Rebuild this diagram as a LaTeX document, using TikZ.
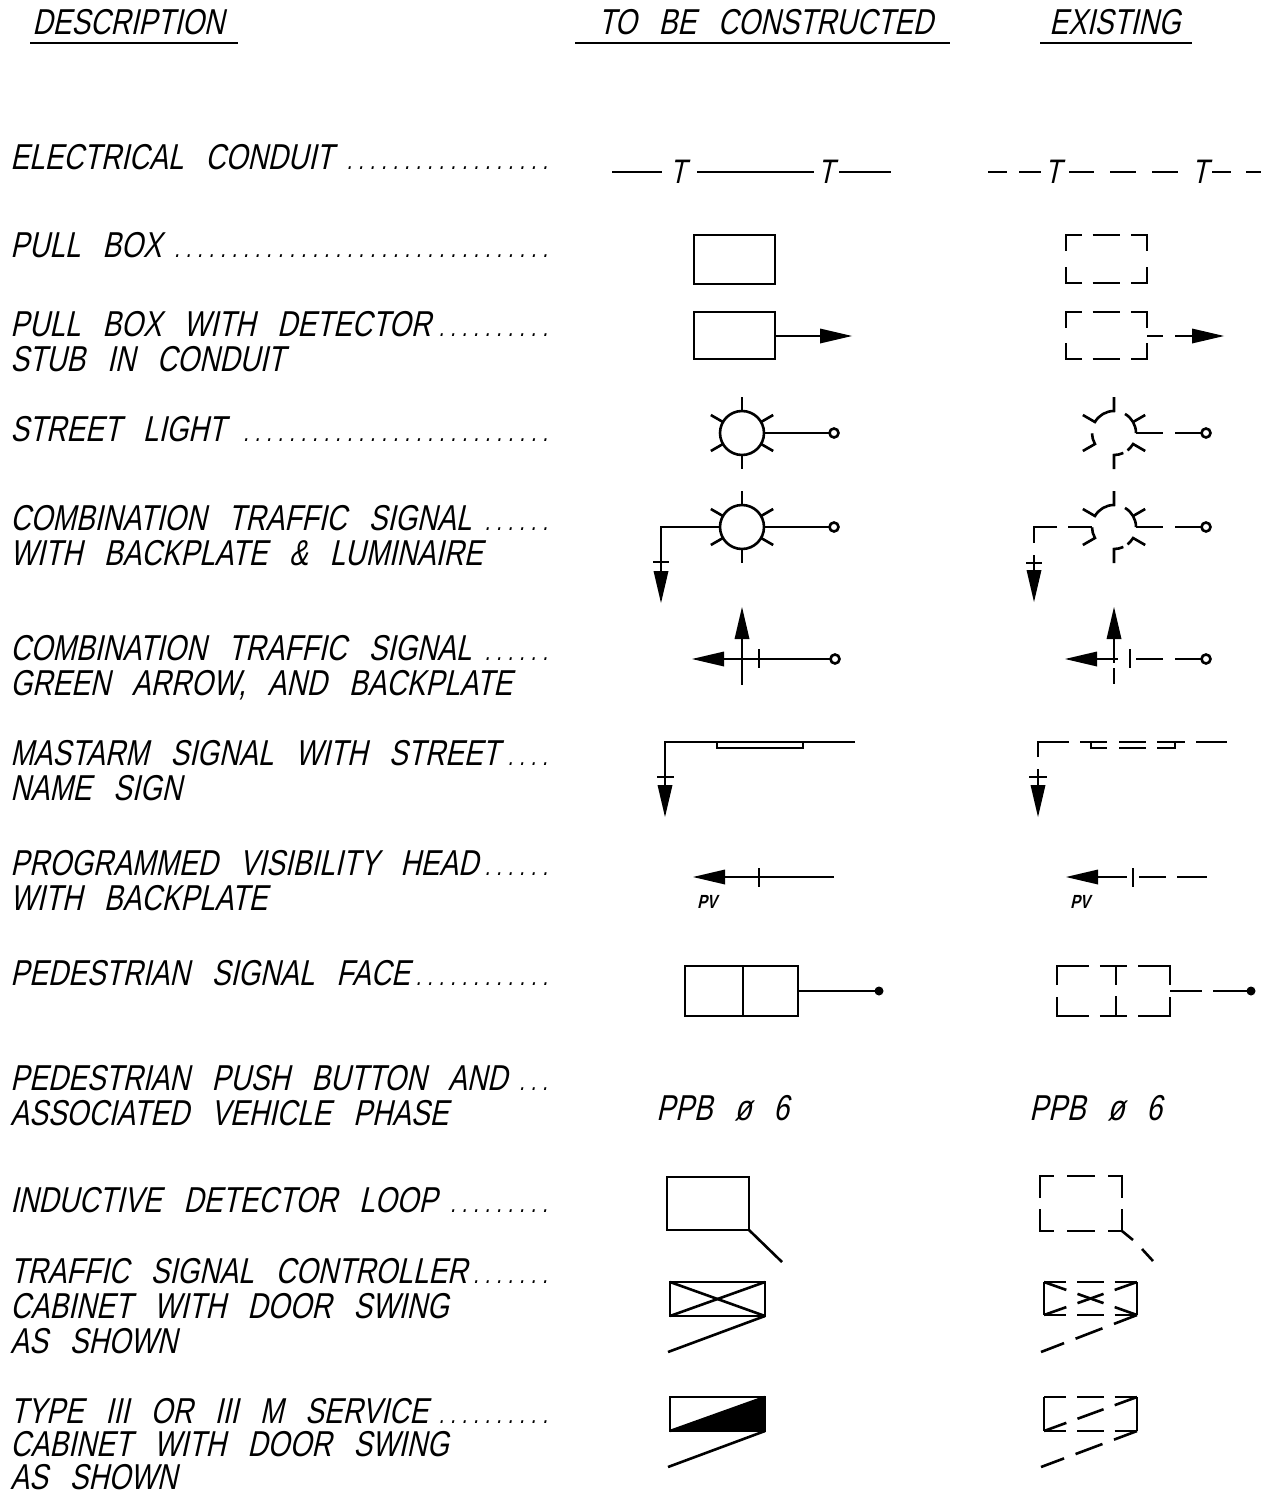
\documentclass[tikz,border=0pt]{standalone}
\usepackage{fontspec}
\usetikzlibrary{calc}
\newfontfamily\cad[FakeStretch=0.78,FakeSlant=0.22,WordSpace=2.8]{Liberation Sans}
\newcommand\lead{\leaders\hbox to 11.5pt{\hss\fontsize{26}{26}\selectfont.\hss}\hfill}
\newcommand\lbox[1]{\makebox[551pt][l]{#1\lead}}
\newcommand\tdash[2]{\draw #1 -- ($#1!0.24!#2$); \draw ($#1!0.36!#2$) -- ($#1!0.64!#2$); \draw ($#1!0.76!#2$) -- #2;}
\newcommand\harrow[3]{\fill (#1,#2) -- ({#1-#3*32},{#2-7.5}) -- ({#1-#3*32},{#2+7.5}) -- cycle;}
\newcommand\varrow[3]{\fill (#1,#2) -- ({#1-7.5},{#2-#3*32}) -- ({#1+7.5},{#2-#3*32}) -- cycle;}
\newcommand\sunsym[2]{\draw (#1,#2) circle[radius=22pt];
  \foreach \a in {30,90,...,330} \draw ($(#1,#2)+(\a:22pt)$) -- ($(#1,#2)+(\a:36pt)$);}
\newcommand\esun[2]{\coordinate (c) at (#1,#2);
  \draw ($(c)+(150:36pt)$) -- ($(c)+(150:22pt)$) arc[start angle=150,end angle=90,radius=22pt] -- ($(c)+(90:36pt)$);
  \draw ($(c)+(60:22pt)$) arc[start angle=60,end angle=0,radius=22pt];
  \draw ($(c)+(30:22pt)$) -- ($(c)+(30:36pt)$);
  \draw ($(c)+(181:22pt)$) arc[start angle=181,end angle=210,radius=22pt] -- ($(c)+(210:36pt)$);
  \draw ($(c)+(270:36pt)$) -- ($(c)+(270:22pt)$) arc[start angle=270,end angle=295,radius=22pt];
  \draw ($(c)+(308:22pt)$) arc[start angle=308,end angle=330,radius=22pt] -- ($(c)+(330:36pt)$);}
% dashed box: x1 y1 x2 y2, horiz arm frac, middle start frac, vert arm frac
\newcommand\dbox[7]{\coordinate (bA) at (#1,#2); \coordinate (bB) at (#3,#2);
  \coordinate (bC) at (#3,#4); \coordinate (bD) at (#1,#4);
  \draw ($(bA)!#7!(bD)$) -- (bA) -- ($(bA)!#5!(bB)$);
  \draw ($(bA)!#6!(bB)$) -- ($(bB)!#6!(bA)$);
  \draw ($(bB)!#5!(bA)$) -- (bB) -- ($(bB)!#7!(bC)$);
  \draw ($(bC)!#7!(bB)$) -- (bC) -- ($(bC)!#5!(bD)$);
  \draw ($(bD)!#6!(bC)$) -- ($(bC)!#6!(bD)$);
  \draw ($(bD)!#5!(bC)$) -- (bD) -- ($(bD)!#7!(bA)$);}
\tikzset{
  lbl/.style={font=\cad\fontsize{36}{36}\selectfont, anchor=base west, inner sep=0pt},
  tee/.style={font=\cad\fontsize{34}{34}\selectfont, anchor=center, inner sep=0pt},
  pv/.style={font=\cad\bfseries\fontsize{19}{19}\selectfont, anchor=base west, inner sep=0pt},
  uline/.style={line width=2.4pt},
  ring/.style={line width=2.6pt, fill=white}
}
\begin{document}
\begin{tikzpicture}[x=1pt,y=-1pt, line width=2.6pt, line cap=butt, line join=miter]
\useasboundingbox (0,0) rectangle (1270,1495);
% headers
\node[lbl] (h1) at (31,35) {DESCRIPTION};
\node[lbl] (h2) at (597,35) {TO BE CONSTRUCTED};
\node[lbl] (h3) at (1048,35) {EXISTING};
\draw[uline] (30,43) -- (238,43);
\draw[uline] (575,43) -- (950,43);
\draw[uline] (1040,43) -- (1192,43);
% descriptions
\node[lbl] (t1) at (9,170) {\lbox{ELECTRICAL CONDUIT}};
\node[lbl] (t2) at (9,258) {\lbox{PULL BOX}};
\node[lbl] (t3) at (9,336) {\lbox{PULL BOX WITH DETECTOR}};
\node[lbl] (t3b) at (9,371) {STUB IN CONDUIT};
\node[lbl] (t4) at (9,441) {\lbox{STREET LIGHT\hspace{10pt}}};
\node[lbl] (t5) at (9,530) {\lbox{COMBINATION TRAFFIC SIGNAL}};
\node[lbl] (t5b) at (9,565) {WITH BACKPLATE \& LUMINAIRE};
\node[lbl] (t6) at (9,660) {\lbox{COMBINATION TRAFFIC SIGNAL}};
\node[lbl] (t6b) at (9,695) {GREEN ARROW, AND BACKPLATE};
\node[lbl] (t7) at (9,765) {\lbox{MASTARM SIGNAL WITH STREET}};
\node[lbl] (t7b) at (9,800) {NAME SIGN};
\node[lbl] (t8) at (9,875) {\lbox{PROGRAMMED VISIBILITY HEAD}};
\node[lbl] (t8b) at (9,910) {WITH BACKPLATE};
\node[lbl] (t9) at (9,985) {\lbox{PEDESTRIAN SIGNAL FACE}};
\node[lbl] (t10) at (9,1090) {\lbox{PEDESTRIAN PUSH BUTTON AND}};
\node[lbl] (t10b) at (9,1125) {ASSOCIATED VEHICLE PHASE};
\node[lbl] (t11) at (9,1212) {\lbox{INDUCTIVE DETECTOR LOOP}};
\node[lbl] (t12) at (9,1283) {\lbox{TRAFFIC SIGNAL CONTROLLER}};
\node[lbl] (t12b) at (9,1318) {CABINET WITH DOOR SWING};
\node[lbl] (t12c) at (9,1353) {AS SHOWN};
\node[lbl] (t13) at (9,1423) {\lbox{TYPE III OR III M SERVICE}};
\node[lbl] (t13b) at (9,1456) {CABINET WITH DOOR SWING};
\node[lbl] (t13c) at (9,1489) {AS SHOWN};
% ---- row 1: conduit
\draw (612,172) -- (662,172); \node[tee] (ca) at (678,172) {T};
\draw (697,172) -- (814,172); \node[tee] (cb) at (826,172) {T};
\draw (839,172) -- (891,172);
\draw (988,172) -- (1007,172); \draw (1019,172) -- (1041,172);
\node[tee] (cc) at (1053,172) {T};
\draw (1069,172) -- (1094,172); \draw (1110,172) -- (1136,172); \draw (1152,172) -- (1178,172);
\node[tee] (cd) at (1200,172) {T};
\draw (1212,172) -- (1231,172); \draw (1246,172) -- (1261,172);
% ---- row 2: pull box
\draw (694,235) rectangle (775,284);
\dbox{1066}{235}{1147}{283}{0.2}{0.33}{0.33}
% ---- row 3: pull box with stub
\draw (694,312) rectangle (775,359);
\draw (775,336) -- (822,336); \harrow{852}{336}{1}
\dbox{1066}{312}{1147}{359}{0.2}{0.33}{0.33}
\draw (1147,336) -- (1163,336); \draw (1175,336) -- (1194,336); \harrow{1224}{336}{1}
% ---- row 4: street light
\sunsym{742}{433}
\draw (764,433) -- (829,433); \draw[ring] (834,433) circle[radius=4.5pt];
\esun{1114}{433}
\draw (1136,433) -- (1163,433); \draw (1175,433) -- (1201,433);
\draw[ring] (1206,433) circle[radius=4.5pt];
% ---- row 5: combination signal + luminaire
\sunsym{742}{527}
\draw (764,527) -- (829,527); \draw[ring] (834,527) circle[radius=4.5pt];
\draw (720,527) -- (661,527) -- (661,572);
\draw (653,562) -- (669,562); \varrow{661}{603}{1}
\esun{1114}{527}
\draw (1136,527) -- (1163,527); \draw (1175,527) -- (1201,527);
\draw[ring] (1206,527) circle[radius=4.5pt];
\draw (1092,527) -- (1068,527);
\draw (1057,527) -- (1034,527) -- (1034,543);
\draw (1034,555) -- (1034,572); \draw (1026,563) -- (1042,563); \varrow{1034}{602}{1}
% ---- row 6: green arrow
\varrow{742}{607}{-1} \draw (742,637) -- (742,685);
\harrow{692}{659}{-1} \draw (722,659) -- (830,659);
\draw (759,649) -- (759,668);
\draw[ring] (835,659) circle[radius=4.5pt];
\varrow{1114}{607}{-1} \draw (1114,637) -- (1114,663); \draw (1114,668) -- (1114,684);
\harrow{1065}{659}{-1} \draw (1095,659) -- (1118,659);
\draw (1130,649) -- (1130,668);
\draw (1136,659) -- (1163,659); \draw (1175,659) -- (1201,659);
\draw[ring] (1206,659) circle[radius=4.5pt];
% ---- row 7: mastarm
\draw (855,742) -- (665,742) -- (665,787);
\draw (657,777) -- (674,777); \varrow{665}{817}{1}
\draw (717,742) rectangle (803,748);
\draw (1038,757) -- (1038,742) -- (1069,742);
\draw (1080,742) -- (1107,742); \draw (1119,742) -- (1146,742);
\draw (1157,742) -- (1185,742); \draw (1196,742) -- (1227,742);
\draw (1091,742) -- (1091,748) -- (1107,748);
\draw (1119,748) -- (1146,748);
\draw (1157,748) -- (1175,748) -- (1175,742);
\draw (1038,769) -- (1038,788); \draw (1029,777) -- (1047,777); \varrow{1038}{817}{1}
% ---- row 8: programmed visibility head
\harrow{693}{877}{-1} \draw (723,877) -- (834,877);
\draw (759,868) -- (759,887);
\node[pv] (pv1) at (696,908) {PV};
\harrow{1066}{877}{-1} \draw (1096,877) -- (1127,877);
\draw (1133,868) -- (1133,887);
\draw (1139,877) -- (1166,877); \draw (1177,877) -- (1207,877);
\node[pv] (pv2) at (1069,908) {PV};
% ---- row 9: pedestrian signal face
\draw (685,966) rectangle (798,1016); \draw (743,966) -- (743,1016);
\draw (798,991) -- (876,991); \fill (879,991) circle[radius=4.5pt];
\dbox{1057}{966}{1170}{1016}{0.28}{0.38}{0.38}
\draw (1116,966) -- (1116,985); \draw (1116,996) -- (1116,1016);
\draw (1170,991) -- (1202,991); \draw (1213,991) -- (1248,991);
\fill (1251,991) circle[radius=4.5pt];
% ---- row 10: push button
\node[lbl] (ppb1) at (655,1120) {PPB ø 6};
\node[lbl] (ppb2) at (1028,1120) {PPB ø 6};
% ---- row 11: detector loop
\draw (667,1177) rectangle (749,1230); \draw (749,1230) -- (782,1262);
\dbox{1040}{1176}{1122}{1231}{0.17}{0.33}{0.4}
\draw (1122,1231) -- (1133,1240); \draw (1142,1249) -- (1153,1261);
% ---- row 12: controller cabinet
\draw (670,1282) rectangle (765,1316);
\draw (670,1282) -- (765,1316); \draw (670,1316) -- (765,1282);
\draw (765,1316) -- (668,1352);
\draw (1044,1282) -- (1044,1315); \draw (1137,1282) -- (1137,1315);
\tdash{(1044,1282)}{(1137,1282)}
\tdash{(1044,1315)}{(1137,1315)}
\tdash{(1044,1282)}{(1137,1315)}
\tdash{(1044,1315)}{(1137,1282)}
\tdash{(1137,1315)}{(1041,1352)}
% ---- row 13: service cabinet
\fill (670,1431) -- (765,1397) -- (765,1431) -- cycle;
\draw (670,1397) rectangle (765,1431);
\draw (670,1431) -- (765,1397);
\draw (765,1431) -- (668,1467);
\draw (1044,1397) -- (1044,1431); \draw (1137,1397) -- (1137,1431);
\tdash{(1044,1397)}{(1137,1397)}
\tdash{(1044,1431)}{(1137,1431)}
\tdash{(1044,1431)}{(1137,1397)}
\tdash{(1137,1431)}{(1041,1467)}
\end{tikzpicture}
\end{document}
